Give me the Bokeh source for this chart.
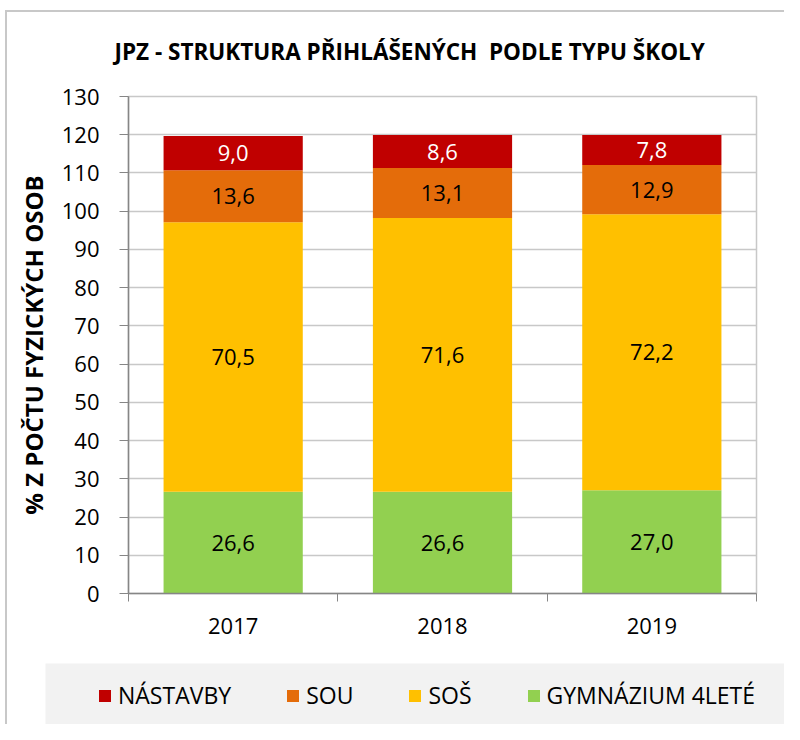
from bokeh.plotting import figure
from bokeh.layouts import column
from bokeh.models import (FixedTicker, Legend, LegendItem, ColumnDataSource, Range1d,
                          CustomJSTickFormatter, BoxAnnotation)
from bokeh.core.properties import value
from bokeh.embed import file_html
from bokeh.resources import INLINE

# ---- data ----
years = ["2017", "2018", "2019"]
series_names = ["GYMNÁZIUM 4LETÉ", "SOŠ", "SOU", "NÁSTAVBY"]
gymnazium = [26.6, 26.6, 27.0]
sos = [70.5, 71.6, 72.2]
sou = [13.6, 13.1, 12.9]
nastavby = [9.0, 8.6, 7.8]
y_ticks = [0, 10, 20, 30, 40, 50, 60, 70, 80, 90, 100, 110, 120, 130]

series_values = [gymnazium, sos, sou, nastavby]
colors = ["#92d050", "#ffc000", "#e46c0a", "#c00000"]
label_colors = ["black", "black", "black", "white"]

FONT = "Open Sans"
BORDER = "#c8c8c8"
n = len(years)
xs = [i + 0.5 for i in range(n)]

W, H1, H2 = 784, 650, 74

keys = ["s%d" % i for i in range(len(series_names))]
data = {"x": xs}
for k, v in zip(keys, series_values):
    data[k] = v
src = ColumnDataSource(data)

# ---------------- main chart ----------------
p = figure(width=W, height=H1, x_range=Range1d(0, n), y_range=Range1d(0, 130),
           output_backend="svg", toolbar_location=None,
           min_border_left=128, min_border_right=28, min_border_top=96, min_border_bottom=57)
p.frame_align = False
p.border_fill_alpha = 0
p.styles = {
    "background-color": "white",
    "background-image": "linear-gradient(%s, %s), linear-gradient(%s, %s)" % (BORDER, BORDER, BORDER, BORDER),
    "background-size": "2px 100%, 100% 2px",
    "background-position": "5px 10px, 5px 10px",
    "background-repeat": "no-repeat",
}
p.background_fill_color = "white"
p.outline_line_color = BORDER
p.outline_line_width = 1.5

# title
p.title.text = "JPZ - STRUKTURA PŘIHLÁŠENÝCH\u00a0 PODLE TYPU ŠKOLY"
p.title.align = "left"
p.title.offset = -14
p.title.standoff = 59
p.title.text_font = FONT
p.title.text_font_style = "bold"
p.title.text_font_size = "22.5px"
p.title.text_color = "black"

p.vbar_stack(keys, x="x", width=0.665, color=colors, line_color=None, source=src)

# data labels
lx, ly, lt, lc = [], [], [], []
for i in range(n):
    bottom = 0.0
    for s, vals in enumerate(series_values):
        v = vals[i]
        lx.append(xs[i])
        ly.append(bottom + v / 2)
        lt.append(("%.1f" % v).replace(".", ","))
        lc.append(label_colors[s])
        bottom += v
p.text(x=lx, y=ly, text=lt, text_color=lc, text_align="center", text_baseline="middle",
       text_font=value(FONT), text_font_size="22px")

# axes
p.xgrid.visible = False
p.ygrid.ticker = FixedTicker(ticks=y_ticks)
p.ygrid.grid_line_color = BORDER
p.ygrid.grid_line_width = 1.5

xa = p.xaxis[0]
xa.ticker = FixedTicker(ticks=xs, minor_ticks=list(range(n + 1)))
xa.formatter = CustomJSTickFormatter(args=dict(labels=years), code="return labels[Math.floor(tick)];")
xa.major_tick_out = 0
xa.major_tick_in = 0
xa.minor_tick_out = 8
xa.minor_tick_in = 0
xa.minor_tick_line_color = "#868686"
xa.axis_line_color = "#868686"
xa.axis_line_width = 1.5
xa.major_label_standoff = 16
xa.major_label_text_font = FONT
xa.major_label_text_font_size = "22px"
xa.major_label_text_color = "black"

ya = p.yaxis[0]
ya.ticker = FixedTicker(ticks=y_ticks)
ya.major_tick_out = 9
ya.major_tick_in = 0
ya.minor_tick_out = 0
ya.minor_tick_in = 0
ya.major_tick_line_color = "#868686"
ya.axis_line_color = "#868686"
ya.axis_line_width = 1.5
ya.major_label_standoff = 20
ya.major_label_text_font = FONT
ya.major_label_text_font_size = "22px"
ya.major_label_text_color = "black"
ya.axis_label = "% Z POČTU FYZICKÝCH OSOB"
ya.axis_label_text_font = FONT
ya.axis_label_text_font_style = "bold"
ya.axis_label_text_font_size = "24px"
ya.axis_label_text_color = "black"
ya.axis_label_standoff = 9

# ---------------- legend strip ----------------
p2 = figure(width=W, height=H2, x_range=Range1d(0, W), y_range=Range1d(0, H2),
            output_backend="svg", toolbar_location=None,
            x_axis_location=None, y_axis_location=None,
            min_border=0, min_border_left=0, min_border_right=0,
            min_border_top=0, min_border_bottom=0)
p2.frame_align = False
p2.grid.visible = False
p2.outline_line_color = None
p2.border_fill_alpha = 0
p2.background_fill_alpha = 0
p2.styles = {
    "background-color": "white",
    "background-image": "linear-gradient(%s, %s)" % (BORDER, BORDER),
    "background-size": "2px 100%",
    "background-position": "5px 0px",
    "background-repeat": "no-repeat",
}
p2.add_layout(BoxAnnotation(left=45, right=W, bottom=0, top=61,
                            fill_color="#f2f2f2", fill_alpha=1, line_color=None))

# hidden copies of the series so the legend can draw their swatches
swatch_renderers = p2.vbar_stack(keys, x="x", width=0.665, color=colors, line_color=None, source=src)
for r in swatch_renderers:
    r.visible = False

items = [LegendItem(label=series_names[i], renderers=[swatch_renderers[i]])
         for i in reversed(range(len(series_names)))]
legend = Legend(items=items, orientation="horizontal", location=(97, 13),
                background_fill_alpha=0, border_line_color=None,
                inactive_fill_alpha=0,
                glyph_width=15, glyph_height=15, label_standoff=6, spacing=54,
                padding=0, margin=0, label_text_font=FONT, label_text_font_size="23px",
                label_text_color="black")
p2.add_layout(legend)

layout = column(p, p2, spacing=0)
open("out.html", "w").write(file_html(layout, INLINE))
